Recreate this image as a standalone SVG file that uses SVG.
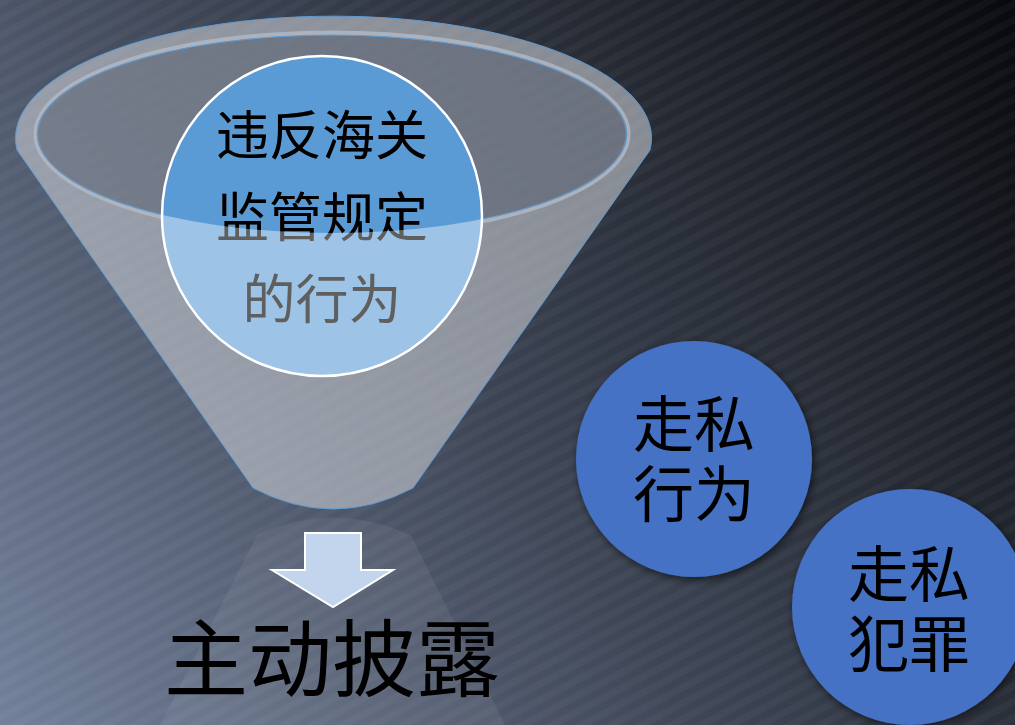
<svg xmlns="http://www.w3.org/2000/svg" width="1015" height="725" viewBox="0 0 1015 725">
<defs>
<linearGradient id="bg" x1="0" y1="725" x2="1015" y2="0" gradientUnits="userSpaceOnUse">
<stop offset="0" stop-color="#72809a"/>
<stop offset="0.45" stop-color="#3f4757"/>
<stop offset="1" stop-color="#08090c"/>
</linearGradient>
<pattern id="stripes" width="14" height="14" patternUnits="userSpaceOnUse" patternTransform="rotate(-28)">
<rect width="14" height="7" fill="#ffffff" opacity="0.03"/>
</pattern>
<clipPath id="innerClip"><ellipse cx="332" cy="134" rx="295" ry="99"/></clipPath>
<filter id="sh" x="-20%" y="-20%" width="140%" height="140%">
<feGaussianBlur in="SourceAlpha" stdDeviation="4"/>
<feOffset dx="2" dy="3"/>
<feComponentTransfer><feFuncA type="linear" slope="0.6"/></feComponentTransfer>
<feMerge><feMergeNode/><feMergeNode in="SourceGraphic"/></feMerge>
</filter>
<style>
.cjk{font-family:"Noto Sans CJK SC","Noto Sans",sans-serif;text-anchor:middle}
.big{font-size:53px}
.mid{font-size:61px}
.blue{fill:#4472c4}
</style>
</defs>
<rect width="1015" height="725" fill="url(#bg)"/>
<rect width="1015" height="725" fill="url(#stripes)"/>

<g id="reflection">
<path d="M257,535 Q333,500 411,535 L505,725 L160,725 Z" fill="#ffffff" opacity="0.06" stroke="#5b9bd5" stroke-opacity="0.5" stroke-width="1"/>
</g>

<g id="funnel">
<path d="M17,150 A318,122 0 1 1 650,150 L413,488 Q333,530 253,488 Z" fill="#c8ccd2" fill-opacity="0.6" stroke="#5b9bd5" stroke-width="1"/>
<ellipse cx="332" cy="134" rx="296" ry="101" fill="none" stroke="#b3bac6" stroke-width="5" opacity="0.8"/>
<ellipse cx="332" cy="134" rx="295" ry="99" fill="#4a5364" fill-opacity="0.45" stroke="#5b9bd5" stroke-width="1"/>
</g>

<g id="node-violation">
<circle cx="322" cy="216" r="160" fill="#9dc3e6"/>
<circle cx="322" cy="216" r="160" fill="#5b9bd5" clip-path="url(#innerClip)"/>
<circle cx="322" cy="216" r="160" fill="none" stroke="#ffffff" stroke-width="2.5"/>
<text class="cjk big" fill="#5f5f5f"><tspan x="322" y="155">违反海关</tspan><tspan x="322" y="237">监管规定</tspan><tspan x="322" y="319">的行为</tspan></text>
<text class="cjk big" fill="#000000" clip-path="url(#innerClip)"><tspan x="322" y="155">违反海关</tspan><tspan x="322" y="237">监管规定</tspan><tspan x="322" y="319">的行为</tspan></text>
</g>

<g id="arrow">
<polygon points="305,533 361,533 361,570 393,570 333,607 272,570 305,570" fill="#c3d5ec" stroke="#ffffff" stroke-width="2"/>
</g>

<g id="node-disclosure">
<text class="cjk" x="332" y="690" font-size="84" fill="#000000">主动披露</text>
</g>

<g id="node-smuggling-act">
<circle class="blue" cx="694" cy="459" r="118" filter="url(#sh)"/>
<text class="cjk mid" fill="#000000"><tspan x="694" y="447">走私</tspan><tspan x="694" y="517">行为</tspan></text>
</g>

<g id="node-smuggling-crime">
<circle class="blue" cx="910" cy="607" r="118" filter="url(#sh)"/>
<text class="cjk mid" fill="#000000"><tspan x="909" y="597">走私</tspan><tspan x="909" y="667">犯罪</tspan></text>
</g>

<g id="connectors"></g>
</svg>
